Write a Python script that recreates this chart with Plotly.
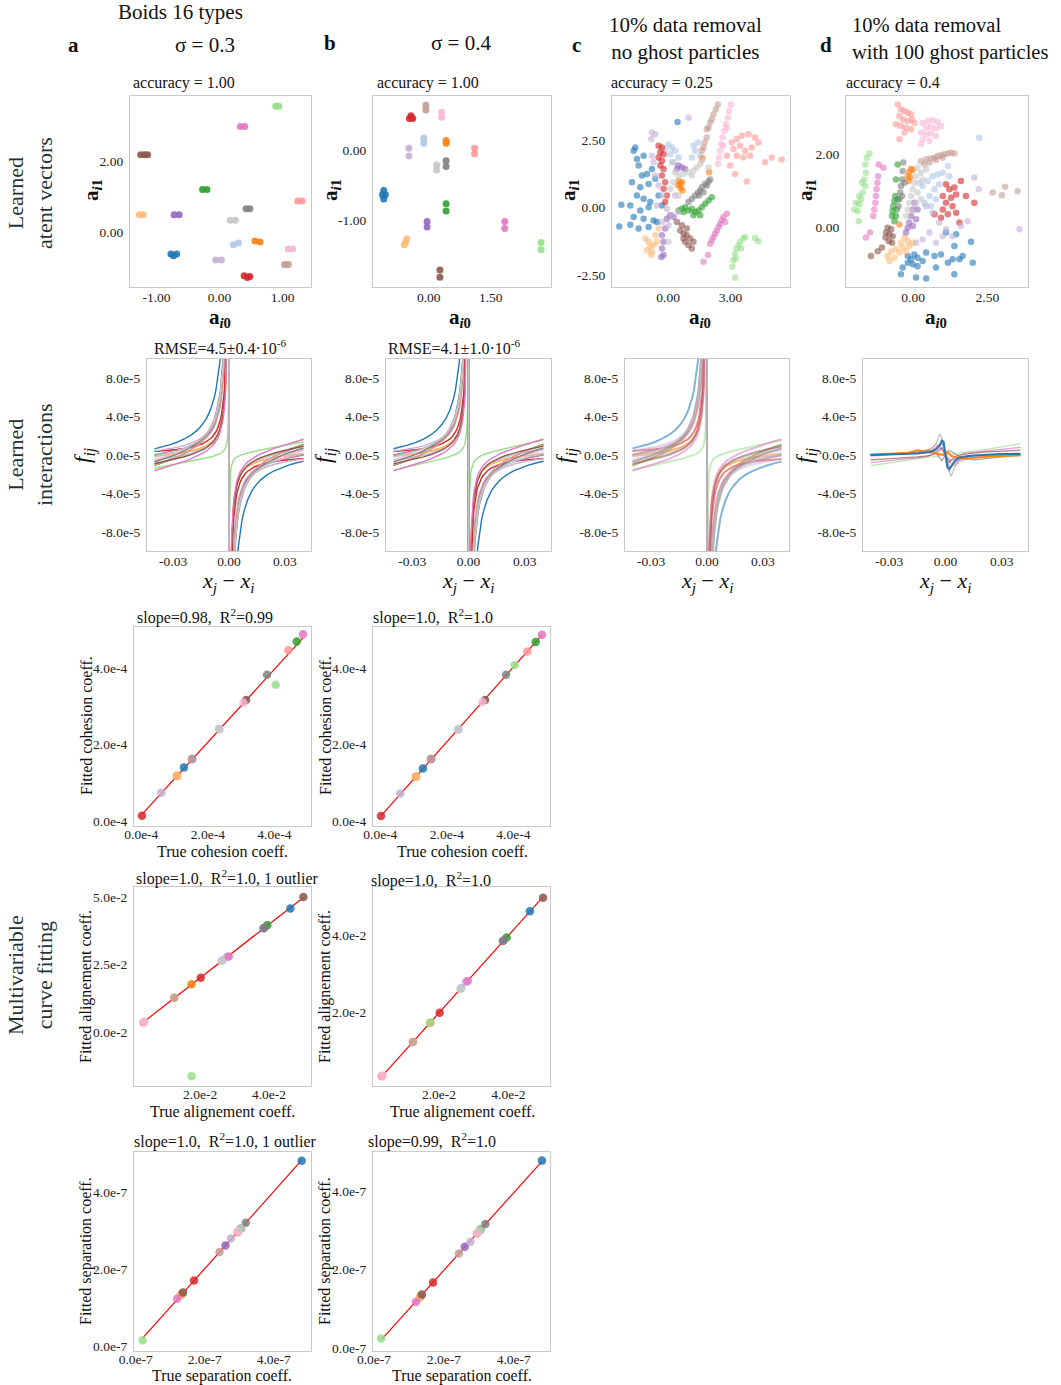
import numpy as np
import plotly.graph_objects as go

# the page body margin is removed by a post script, so the figure fills the window exactly
PAGE_OFF = 0
FW, FH = 1061, 1385
FONT = "Liberation Serif"

TYPES = ["blue", "lblue", "orange", "lorange", "green", "lgreen", "red", "lred",
         "purple", "lpurple", "brown", "lbrown", "pink", "lpink", "gray", "lgray"]
COLORS = dict(zip(TYPES, ["#1f77b4", "#aec7e8", "#ff7f0e", "#ffbb78", "#2ca02c", "#98df8a",
                          "#d62728", "#ff9896", "#9467bd", "#c5b0d5", "#8c564b", "#c49c94",
                          "#e377c2", "#f7b6d2", "#7f7f7f", "#c7c7c7"]))

# ---------------- coefficients per type (order = TYPES) ----------------
COH_TRUE = [1.28e-4, 2.35e-4, 1.07e-4, 1.08e-4, 4.67e-4, 4.04e-4, 0.02e-4, 4.42e-4,
            1.53e-4, 0.60e-4, 3.15e-4, 1.52e-4, 4.86e-4, 3.07e-4, 3.78e-4, 2.33e-4]
COH_FIT_A = [1.40e-4, 2.40e-4, 1.18e-4, 1.17e-4, 4.69e-4, 3.56e-4, 0.14e-4, 4.46e-4,
             1.62e-4, 0.74e-4, 3.16e-4, 1.62e-4, 4.88e-4, 3.09e-4, 3.82e-4, 2.41e-4]
COH_FIT_B = [1.37e-4, 2.39e-4, 1.16e-4, 1.15e-4, 4.68e-4, 4.08e-4, 0.13e-4, 4.43e-4,
             1.62e-4, 0.72e-4, 3.16e-4, 1.62e-4, 4.87e-4, 3.11e-4, 3.82e-4, 2.39e-4]

ALI_TRUE = [4.62e-2, 2.65e-2, 1.75e-2, 1.25e-2, 3.95e-2, 1.75e-2, 2.02e-2, 0.35e-2,
            3.86e-2, 2.78e-2, 5.00e-2, 1.25e-2, 2.83e-2, 0.38e-2, 3.84e-2, 2.62e-2]
ALI_FIT_A = [4.57e-2, 2.66e-2, 1.77e-2, 1.27e-2, 3.95e-2, -1.64e-2, 2.01e-2, 0.35e-2,
             3.85e-2, 2.78e-2, 5.00e-2, 1.27e-2, 2.80e-2, 0.38e-2, 3.84e-2, 2.63e-2]
ALI_FIT_B = [4.63e-2, 2.64e-2, 1.74e-2, 1.24e-2, 3.95e-2, 1.74e-2, 2.00e-2, 0.35e-2,
             3.87e-2, 2.80e-2, 4.98e-2, 1.24e-2, 2.82e-2, 0.37e-2, 3.86e-2, 2.62e-2]

SEP_TRUE = [4.81e-7, 1.36e-7, 1.32e-7, 1.30e-7, 3.05e-7, 0.20e-7, 1.69e-7, 2.95e-7,
            2.60e-7, 2.76e-7, 1.37e-7, 2.43e-7, 1.20e-7, 2.97e-7, 3.19e-7, 3.04e-7]
SEP_FIT_A = [4.81e-7, 1.37e-7, 1.34e-7, 1.32e-7, 3.05e-7, 0.15e-7, 1.70e-7, 2.95e-7,
             2.61e-7, 2.79e-7, 1.39e-7, 2.44e-7, 1.23e-7, 2.98e-7, 3.20e-7, 3.06e-7]
SEP_FIT_B = [4.78e-7, 1.34e-7, 1.30e-7, 1.28e-7, 3.02e-7, 0.24e-7, 1.67e-7, 2.92e-7,
             2.58e-7, 2.71e-7, 1.36e-7, 2.41e-7, 1.17e-7, 2.94e-7, 3.16e-7, 3.00e-7]

# ---------------- learned latent vectors ----------------
LAT_A = {
    "lgreen": ([0.89, 0.94], [3.58, 3.58]),
    "pink": ([0.33, 0.40], [3.00, 3.00]),
    "brown": ([-1.25, -1.19, -1.14], [2.20, 2.20, 2.20]),
    "green": ([-0.27, -0.20], [1.21, 1.21]),
    "lred": ([1.24, 1.31], [0.88, 0.88]),
    "gray": ([0.42, 0.48], [0.66, 0.66]),
    "lorange": ([-1.27, -1.21], [0.49, 0.49]),
    "purple": ([-0.72, -0.64], [0.49, 0.49]),
    "lgray": ([0.17, 0.25], [0.33, 0.33]),
    "lblue": ([0.22, 0.30], [-0.37, -0.32]),
    "orange": ([0.56, 0.64], [-0.26, -0.29]),
    "lpink": ([1.09, 1.16], [-0.49, -0.49]),
    "blue": ([-0.77, -0.68, -0.73], [-0.63, -0.63, -0.68]),
    "lpurple": ([-0.06, 0.03], [-0.80, -0.80]),
    "lbrown": ([1.03, 1.09], [-0.93, -0.93]),
    "red": ([0.39, 0.48, 0.44], [-1.25, -1.27, -1.30]),
}
LAT_B = {
    "lbrown": ([-0.07, -0.07], [0.57, 0.64]),
    "red": ([-0.47, -0.39, -0.43], [0.45, 0.45, 0.49]),
    "lpink": ([0.31, 0.31], [0.47, 0.54]),
    "lblue": ([-0.12, -0.12], [0.10, 0.17]),
    "orange": ([0.42, 0.42], [0.10, 0.14]),
    "lred": ([1.11, 1.11], [-0.05, 0.03]),
    "lpurple": ([-0.48, -0.48], [-0.08, 0.03]),
    "gray": ([0.42, 0.42], [-0.23, -0.15]),
    "lgray": ([0.19, 0.19], [-0.28, -0.21]),
    "blue": ([-1.12, -1.05, -1.09, -1.09], [-0.63, -0.63, -0.57, -0.69]),
    "green": ([0.42, 0.42], [-0.86, -0.76]),
    "purple": ([-0.04, -0.04], [-1.09, -1.01]),
    "pink": ([1.84, 1.84], [-1.11, -1.01]),
    "lorange": ([-0.59, -0.53, -0.56], [-1.34, -1.26, -1.30]),
    "brown": ([0.27, 0.27], [-1.80, -1.70]),
    "lgreen": ([2.72, 2.72], [-1.41, -1.31]),
}
LAT_C = {
    "blue": ([-1.58, -1.66, -1.50, -1.18, -1.42, -1.02, -1.26, -0.78, -1.74, -1.34, -0.94, -0.62, -1.50, -1.18,
              -0.86, -0.46, -2.25, -1.82, -1.34, -0.94, -0.30, -1.66, -1.18, -0.70, -2.35, -1.82, -1.42, -0.94, -0.54, 0.45],
             [2.22, 2.10, 1.79, 1.91, 1.55, 1.24, 1.18, 1.42, 0.93, 0.75, 0.87, 1.06, 0.44, 0.32,
              0.20, 0.44, 0.10, 0.07, -0.11, 0.01, 0.07, -0.35, -0.42, -0.48, -0.70, -0.64, -0.78, -0.72, -0.54, 3.16]),
    "lpurple": ([-0.78, -0.62, -0.81, -0.70, -0.62, -0.46, -0.30, -0.54, -0.06, 0.18, -0.30, 0.02, 0.50, 0.34, 0.98, -0.78],
                [2.77, 2.71, 2.53, 1.67, 1.18, 0.81, 0.44, 0.07, -0.05, -0.29, -0.54, -0.66, -0.17, 0.44, 3.32, 1.91]),
    "lblue": ([0.02, 0.18, 0.34, 0.10, 0.50, 0.26, 1.22, 1.30, 1.14, 1.43, 1.54, -0.14],
              [2.34, 2.22, 2.10, 1.97, 1.85, 1.67, 2.28, 2.10, 1.85, 2.40, 1.91, 2.16]),
    "red": ([-0.46, -0.30, -0.38, -0.22, -0.46, -0.30, -0.38, -0.22, -0.30, -0.14, -0.22, -0.06, -0.14],
            [2.28, 2.22, 2.04, 1.97, 1.85, 1.73, 1.55, 1.42, 1.18, 0.93, 0.69, 0.44, 0.20]),
    "purple": ([0.50, 0.66, 0.82, 0.42, 0.10, 0.26, -0.06, -0.30, -0.22, -0.30, -0.22, -0.33, -0.14],
               [1.55, 1.48, 1.42, 1.42, -0.29, -0.35, -0.42, -1.03, -1.27, -1.52, -1.76, -1.83, -0.78]),
    "lorange": ([-1.10, -0.94, -0.86, -1.02, -0.78, -0.70, -0.62, -0.46, -0.81, -0.54],
                [-1.15, -1.27, -1.46, -1.58, -1.64, -1.40, -1.03, -0.78, -1.76, -1.27]),
    "lgray": ([0.18, 0.34, 0.50, 0.74, 0.98, 1.22, 1.38, 1.54, 1.62, 1.14, 0.26, 0.10, 0.50, 0.02, 1.94],
              [1.67, 1.30, 1.18, 1.24, 1.30, 1.36, 1.48, 1.61, 1.73, 1.18, 0.93, 0.69, 0.44, -1.27, 1.48]),
    "orange": ([0.50, 0.58, 0.66, 0.47, 0.61, 0.69, 1.65, 1.97],
               [0.99, 0.87, 0.93, 0.81, 0.71, 0.63, 1.82, 1.30]),
    "gray": ([0.98, 1.14, 1.30, 1.43, 1.54, 1.62, 1.78, 1.94, 2.02, 1.49, 1.70, 1.86],
             [0.20, 0.32, 0.44, 0.54, 0.63, 0.75, 0.87, 0.96, 1.03, 0.44, 0.56, 0.81]),
    "green": ([0.50, 0.66, 0.82, 0.98, 1.14, 1.30, 1.46, 1.62, 1.78, 1.94, 2.10, 1.54, 1.22, 0.74],
              [-0.11, -0.05, 0.01, -0.11, -0.05, -0.17, -0.11, 0.01, 0.14, 0.26, 0.38, -0.29, -0.29, -0.17]),
    "brown": ([0.42, 0.66, 0.58, 0.74, 0.90, 1.06, 0.82, 0.98, 1.14, 0.90, 1.22, 0.74],
              [-0.54, -0.66, -0.85, -0.97, -1.03, -1.15, -1.27, -1.40, -1.52, -0.78, -1.27, -1.15]),
    "lbrown": ([2.39, 2.29, 2.18, 2.10, 2.02, 1.94, 1.86, 1.86, 1.75, 1.70, 1.62],
               [3.81, 3.63, 3.45, 3.26, 3.14, 2.96, 2.89, 2.59, 2.40, 2.22, 2.10]),
    "lpink": ([3.03, 2.93, 2.87, 2.77, 2.71, 2.61, 2.55, 2.50, 2.45, 2.39, 2.82, 2.66],
              [3.81, 3.57, 3.32, 3.08, 2.83, 2.59, 2.34, 2.10, 1.85, 1.61, 2.96, 2.28]),
    "lred": ([3.06, 3.30, 3.54, 3.86, 4.18, 3.14, 3.46, 3.70, 4.02, 4.34, 3.30, 3.62, 3.94, 2.98, 3.22, 3.78,
              4.66, 4.98, 5.46, 2.82],
             [2.40, 2.53, 2.65, 2.71, 2.59, 2.16, 2.28, 2.10, 2.22, 2.40, 1.91, 1.85, 1.91, 1.55, 1.24, 0.96,
              1.67, 1.85, 1.77, 1.91]),
    "pink": ([2.02, 2.10, 2.18, 2.26, 2.34, 2.42, 2.50, 2.58, 2.66, 2.82, 2.74, 1.70, 1.91],
             [-1.34, -1.21, -1.09, -0.97, -0.85, -0.72, -0.60, -0.48, -0.35, -0.23, -0.54, -2.01, -1.76]),
    "lgreen": ([3.09, 3.14, 3.22, 3.30, 3.38, 3.46, 3.62, 3.70, 3.25, 3.51, 3.22, 4.34, 4.18],
               [-2.19, -1.95, -1.70, -1.52, -1.40, -1.27, -1.15, -1.09, -1.89, -1.52, -2.60, -1.25, -1.13]),
}
LAT_D = {
    "lred": ([-0.52, -0.41, -0.29, -0.18, -0.07, -0.46, -0.33, -0.18, -0.04, -0.58, -0.41, -0.24, -0.07, -0.29, -0.46, 0.04],
             [3.37, 3.24, 3.19, 3.14, 3.10, 3.05, 2.96, 2.92, 2.96, 2.83, 2.78, 2.73, 2.69, 2.60, 2.42, 2.87]),
    "lpink": ([0.32, 0.49, 0.66, 0.83, 0.94, 0.44, 0.60, 0.77, 0.27, 0.44, 0.60, 0.77, 0.32, 0.55, 0.27],
              [2.87, 2.92, 2.94, 2.89, 2.78, 2.73, 2.76, 2.71, 2.60, 2.55, 2.58, 2.51, 2.42, 2.37, 2.28]),
    "lbrown": ([0.27, 0.44, 0.60, 0.72, 0.83, 0.94, 1.05, 1.17, 1.28, 1.39, 0.55, 0.77, 1.00, 0.38, 2.68, 2.99, 3.10, 3.52],
               [1.82, 1.87, 1.89, 1.91, 1.96, 1.98, 2.01, 2.03, 2.05, 2.03, 1.78, 1.85, 1.91, 1.73, 0.96, 0.89, 1.12, 1.00]),
    "lgreen": ([-1.47, -1.56, -1.61, -1.59, -1.64, -1.61, -1.70, -1.75, -1.81, -1.87, -1.92, -1.98, -1.83, -1.72, -1.81],
               [2.03, 1.91, 1.73, 1.50, 1.32, 1.14, 0.96, 0.78, 0.64, 0.46, 0.68, 0.50, 0.18, 1.23, 0.87]),
    "pink": ([-1.16, -1.18, -1.20, -1.23, -1.25, -1.27, -1.31, -1.34, -1.00, -1.45, -1.59],
             [1.73, 1.41, 1.23, 1.05, 0.87, 0.68, 0.50, 0.32, 1.64, -0.13, -0.27]),
    "lgray": ([0.15, 0.10, 0.04, -0.01, -0.07, -0.13, -0.18, -0.24, 0.27, 0.21, 0.15, 0.10, 0.32, -0.01, 0.44, 0.27],
              [1.64, 1.41, 1.23, 1.05, 0.87, 0.68, 0.50, 0.32, 1.50, 1.23, 0.96, 0.68, 1.32, 0.46, 1.60, 0.78]),
    "green": ([-0.60, -0.63, -0.67, -0.69, -0.71, -0.63, -0.52, -0.55, -0.58, -0.52, -0.58],
              [0.87, 0.73, 0.59, 0.46, 0.32, 0.18, 0.78, 0.50, 0.32, 1.73, 1.32]),
    "gray": ([-0.33, -0.35, -0.37, -0.41, -0.44, -0.46, -0.49, -0.29, -0.37],
             [1.78, 1.55, 1.32, 1.14, 0.96, 0.78, 0.59, 1.23, 0.87]),
    "orange": ([-0.07, -0.13, -0.01, -0.18, -0.10, -0.15, -0.46],
               [1.61, 1.52, 1.58, 1.41, 1.37, 1.28, 0.09]),
    "lblue": ([0.32, 0.49, 0.66, 0.83, 1.00, 1.17, 0.55, 0.72, 0.88, 0.38, 0.60, 2.23, 1.22, 0.77],
              [1.14, 1.28, 1.41, 1.46, 1.50, 1.69, 0.87, 1.05, 1.19, 0.68, 0.59, 2.46, 1.41, 0.78]),
    "lpurple": ([0.44, 0.66, 0.88, 1.11, 1.33, 0.55, 0.32, 0.77, 1.61, 1.84, 2.06, 2.21, 3.58, 0.10, 1.00],
                [0.59, 0.41, 0.14, -0.04, -0.23, -0.13, -0.32, -0.41, 0.05, 0.18, 1.37, 1.05, -0.04, -0.41, -0.23]),
    "red": ([1.11, 1.22, 1.39, 1.45, 1.28, 1.11, 1.33, 1.00, 1.17, 0.94, 1.45, 1.61, 1.78, 2.06, 0.72, 1.56, 1.00],
            [1.19, 1.05, 1.10, 0.91, 0.82, 0.68, 0.59, 0.50, 0.37, 0.27, 0.41, 1.28, 0.87, 0.68, 0.37, 0.14, 0.87]),
    "purple": ([0.04, -0.01, -0.07, -0.13, -0.18, -0.01, 0.10, -0.24, 0.15],
               [0.68, 0.50, 0.32, 0.14, 0.00, 0.05, 0.23, -0.13, 0.50]),
    "brown": ([-0.86, -0.74, -0.91, -0.80, -0.69, -0.93, -0.82, -0.71, -1.19, -1.42, -1.05],
              [0.00, -0.04, -0.13, -0.18, -0.23, -0.27, -0.36, -0.41, -0.64, -0.77, -0.54]),
    "lorange": ([-0.29, -0.18, -0.41, -0.13, -0.35, -0.58, -0.74, -0.46, -0.86, -0.63, -0.80, -0.24, -0.01],
                [-0.27, -0.36, -0.41, -0.50, -0.54, -0.59, -0.64, -0.68, -0.77, -0.82, -0.91, -0.64, -0.41]),
    "blue": ([-0.18, -0.07, 0.04, 0.15, -0.01, -0.18, 0.15, 0.32, 0.44, -0.35, 0.10, 0.44, 0.77, 0.94, 1.17, 1.39,
              1.33, 1.56, 1.67, 1.95, 2.01, 1.39, 0.72, -0.41, 1.11, 1.45],
             [-0.77, -0.86, -0.73, -0.82, -1.00, -0.96, -1.05, -0.91, -0.68, -1.09, -1.36, -1.39, -1.09, -0.73, -0.96, -0.50,
              -0.86, -0.86, -0.77, -0.38, -0.96, -1.27, -0.77, -1.27, -0.13, -0.18]),
}

# ---------------- interaction curves ----------------
X_NEG = [-0.04, -0.036, -0.032, -0.028, -0.024, -0.02, -0.017, -0.014, -0.012, -0.01, -0.009,
         -0.008, -0.007, -0.006, -0.005, -0.0045, -0.004, -0.0035, -0.003, -0.0027, -0.0024,
         -0.0021, -0.0018, -0.0015, -0.0012, -0.001, -0.0008, -0.0006, -0.0004, -0.0002]
X_GRID = X_NEG + [-v for v in reversed(X_NEG)]

# panel d: learned functions with ghost particles (values in units of 1e-5)
D_UNIT = 1e-5
X_D = [-0.04, -0.03, -0.02, -0.015, -0.01, -0.007, -0.005, -0.003, -0.002, -0.001, 0.0,
       0.001, 0.002, 0.003, 0.005, 0.007, 0.01, 0.015, 0.02, 0.03, 0.04]
D_CURVES = {
    "lgreen": [-1.1, -0.8, -0.5, -0.4, -0.25, -0.2, -0.15, -0.1, -0.05, 0, 0, 0, 0.05, 0.1, 0.15, 0.2, 0.3, 0.4, 0.55, 0.85, 1.2],
    "pink": [-0.8, -0.6, -0.4, -0.3, -0.2, 0.1, 0.4, 0.7, 0.6, 0.2, 0, -0.2, -0.5, -0.6, -0.4, -0.2, 0.2, 0.3, 0.4, 0.6, 0.8],
    "lred": [0, 0.05, 0.15, 0.25, 0.5, 0.8, 1.1, 0.9, 0.6, 0.3, 0, -0.3, -0.6, -0.9, -1.1, -0.8, -0.5, -0.25, -0.1, 0, 0.05],
    "lbrown": [0, 0.05, 0.1, 0.2, 0.4, 0.7, 1.2, 2.2, 1.8, 0.8, 0, -0.8, -1.8, -2.2, -1.2, -0.6, -0.3, -0.1, 0, 0.05, 0.1],
    "gray": [0, 0.1, 0.2, 0.3, 0.5, 0.4, 0.2, -0.4, -0.6, -0.3, 0, 0.3, 0.5, 0.4, 0.1, -0.1, -0.3, -0.5, -0.4, -0.2, 0],
    "brown": [-0.5, -0.4, -0.3, -0.2, -0.1, 0, 0.2, 0.5, 0.8, 0.4, 0, -0.4, -0.8, -0.5, -0.2, 0, 0.1, 0.2, 0.3, 0.4, 0.5],
    "purple": [-0.1, 0, 0.1, 0.2, 0.3, 0.5, 0.8, 1.2, 1.3, 0.8, 0, -0.8, -1.3, -1.2, -0.8, -0.5, -0.3, -0.1, 0, 0.1, 0.2],
    "orange": [0.05, 0.1, 0.2, 0.5, 0.35, 0.2, 0.15, 0.1, 0.05, 0, 0.2, 0.35, 0.1, -0.1, -0.2, -0.3, -0.4, -0.3, -0.2, -0.1, -0.05],
    "blue": [0, 0.05, 0.1, 0.15, 0.25, 0.4, 0.6, 1.0, 1.5, 1.4, 0, -1.3, -1.5, -1.2, -0.6, -0.3, -0.15, -0.05, 0, 0.1, 0.1],
}

# ---------------- tick values ----------------
TICKS_LAT = {"a": ([-1, 0, 1], [0, 2]), "b": ([0, 1.5], [-1, 0]),
             "c": ([0, 3], [-2.5, 0, 2.5]), "d": ([0, 2.5], [0, 2])}
TICKS_INT_X = [-0.03, 0.0, 0.03]
TICKS_INT_Y = [-8e-5, -4e-5, 0.0, 4e-5, 8e-5]
TICKS_COH = [0.0, 2e-4, 4e-4]
TICKS_ALI_A_X, TICKS_ALI_A_Y = [2e-2, 4e-2], [0.0, 2.5e-2, 5e-2]
TICKS_ALI_B = [2e-2, 4e-2]
TICKS_SEP = [0.0, 2e-7, 4e-7]

# ======================================================================
def PX(x):
    return (x - PAGE_OFF) / FW


def PY(y):
    return 1 - (y - PAGE_OFF) / FH


TICKFONT = dict(family=FONT, size=13.5, color="#222222")
AXBASE = dict(showline=True, mirror=True, linecolor="#c9c9c9", linewidth=1.2, showgrid=False,
              zeroline=False, ticks="", tickfont=TICKFONT, automargin=False)

layout = dict(template="none", width=FW, height=FH, margin=dict(l=0, r=0, t=0, b=0, pad=0, autoexpand=False),
              autosize=False, paper_bgcolor="white", plot_bgcolor="white", showlegend=False,
              font=dict(family=FONT, color="#111111"))
traces = []
counter = [0]


def fmt2(v):
    return f"{v:.2f}"


def fmte(v, e):
    return f"{v / 10 ** e:.1f}e{e}"


def new_axes(box, xr, yr, xt, xtt, yt, ytt, xstand=-2):
    counter[0] += 1
    n = counter[0]
    s = "" if n == 1 else str(n)
    x0, x1, y0, y1 = box
    layout["xaxis" + s] = dict(domain=[PX(x0), PX(x1)], range=xr, anchor="y" + s,
                               tickvals=xt, ticktext=xtt, ticklabelstandoff=xstand, **AXBASE)
    layout["yaxis" + s] = dict(domain=[PY(y1), PY(y0)], range=yr, anchor="x" + s,
                               tickvals=yt, ticktext=ytt, ticklabelstandoff=3, **AXBASE)
    return "x" + s, "y" + s


# ---- Row 1: latent vectors ----
row1 = [("a", (130, 311, 96, 287), [-1.42, 1.45], [-1.57, 3.87], LAT_A, 7, 0.9),
        ("b", (373, 551, 96, 287), [-1.35, 2.96], [-1.94, 0.77], LAT_B, 7, 0.9),
        ("c", (612, 790, 96, 287), [-2.70, 5.86], [-2.94, 4.12], LAT_C, 6.5, 0.6),
        ("d", (846, 1028, 96, 287), [-2.26, 3.87], [-1.62, 3.60], LAT_D, 6.5, 0.6)]
for key, box, xr, yr, data, msize, mop in row1:
    xt, yt = TICKS_LAT[key]
    xa, ya = new_axes(box, xr, yr, xt, [fmt2(v) for v in xt], yt, [fmt2(v) for v in yt])
    for t in TYPES:
        if t not in data:
            continue
        xs, ys = data[t]
        traces.append(go.Scatter(x=xs, y=ys, xaxis=xa, yaxis=ya, mode="markers",
                                 marker=dict(color=COLORS[t], size=msize, opacity=mop, line=dict(width=0)),
                                 hoverinfo="skip"))

# ---- Row 2: learned interactions ----
xg = np.array(X_GRID)
row2 = [((147, 311, 359, 551), COH_FIT_A, SEP_FIT_A, 1.4, 1.0),
        ((386, 551, 359, 551), COH_FIT_B, SEP_FIT_B, 1.4, 1.0),
        ((625, 789, 359, 551), COH_TRUE, SEP_TRUE, 2.0, 0.55)]
for box, coh, sep, lw, op in row2:
    xa, ya = new_axes(box, [-0.044, 0.044], [-1e-4, 1e-4], TICKS_INT_X, [fmt2(v) for v in TICKS_INT_X],
                      TICKS_INT_Y, [fmte(v, -5) for v in TICKS_INT_Y])
    for i, t in enumerate(TYPES):
        f = coh[i] * xg - sep[i] / xg
        traces.append(go.Scatter(x=X_GRID, y=f, xaxis=xa, yaxis=ya, mode="lines",
                                 line=dict(color=COLORS[t], width=lw), opacity=op, hoverinfo="skip"))
xa, ya = new_axes((863, 1028, 359, 551), [-0.044, 0.044], [-1e-4, 1e-4], TICKS_INT_X,
                  [fmt2(v) for v in TICKS_INT_X], TICKS_INT_Y, [fmte(v, -5) for v in TICKS_INT_Y])
for t, vals in D_CURVES.items():
    traces.append(go.Scatter(x=X_D, y=[v * D_UNIT for v in vals], xaxis=xa, yaxis=ya, mode="lines",
                             line=dict(color=COLORS[t], width=2.0 if t in ("blue", "orange") else 1.2),
                             opacity=0.95 if t in ("blue", "orange") else 0.7, hoverinfo="skip"))


# ---- Rows 3-5: curve fitting ----
def fit_panel(box, xr, yr, xt, xtt, yt, ytt, true, fit, outlier=None):
    xa, ya = new_axes(box, xr, yr, xt, xtt, yt, ytt, xstand=-4)
    idx = [i for i in range(len(true)) if i != outlier]
    tx = np.array([true[i] for i in idx])
    fy = np.array([fit[i] for i in idx])
    slope, icpt = np.polyfit(tx, fy, 1)
    lx = np.array([tx.min(), tx.max()])
    traces.append(go.Scatter(x=lx, y=slope * lx + icpt, xaxis=xa, yaxis=ya, mode="lines",
                             line=dict(color="#ff0000", width=1.2), hoverinfo="skip"))
    traces.append(go.Scatter(x=true, y=fit, xaxis=xa, yaxis=ya, mode="markers",
                             marker=dict(color=[COLORS[t] for t in TYPES], size=8.5, opacity=0.85,
                                         line=dict(width=0)), hoverinfo="skip"))


LG = TYPES.index("lgreen")
fit_panel((134, 311, 627, 826), [-0.22e-4, 5.10e-4], [-0.13e-4, 5.07e-4], TICKS_COH,
          [fmte(v, -4) for v in TICKS_COH], TICKS_COH, [fmte(v, -4) for v in TICKS_COH], COH_TRUE, COH_FIT_A)
fit_panel((373, 550, 627, 826), [-0.22e-4, 5.10e-4], [-0.13e-4, 5.07e-4], TICKS_COH,
          [fmte(v, -4) for v in TICKS_COH], TICKS_COH, [fmte(v, -4) for v in TICKS_COH], COH_TRUE, COH_FIT_B)
fit_panel((134, 311, 887, 1086), [0.08e-2, 5.22e-2], [-2.0e-2, 5.37e-2], TICKS_ALI_A_X,
          [fmte(v, -2) for v in TICKS_ALI_A_X], TICKS_ALI_A_Y, [fmte(v, -2) for v in TICKS_ALI_A_Y],
          ALI_TRUE, ALI_FIT_A, outlier=LG)
fit_panel((373, 550, 887, 1086), [0.1e-2, 5.2e-2], [0.1e-2, 5.26e-2], TICKS_ALI_B,
          [fmte(v, -2) for v in TICKS_ALI_B], TICKS_ALI_B, [fmte(v, -2) for v in TICKS_ALI_B],
          ALI_TRUE, ALI_FIT_B)
fit_panel((134, 311, 1152, 1351), [-0.05e-7, 5.08e-7], [-0.13e-7, 5.04e-7], TICKS_SEP,
          [fmte(v, -7) for v in TICKS_SEP], TICKS_SEP, [fmte(v, -7) for v in TICKS_SEP], SEP_TRUE, SEP_FIT_A)
fit_panel((373, 550, 1152, 1351), [-0.03e-7, 5.04e-7], [-0.08e-7, 5.0e-7], TICKS_SEP,
          [fmte(v, -7) for v in TICKS_SEP], TICKS_SEP, [fmte(v, -7) for v in TICKS_SEP], SEP_TRUE, SEP_FIT_B)

# ---------------- annotations ----------------
ann = []


def note(text, x, y, size, xanchor="center", angle=0, color="#111111", align="center"):
    ann.append(dict(text=text, x=PX(x), y=PY(y), xref="paper", yref="paper", xanchor=xanchor,
                    yanchor="middle", showarrow=False, textangle=angle, align=align,
                    font=dict(family=FONT, size=size, color=color)))


HS = 21
note("Boids 16 types", 180, 12, HS)
note("<b>a</b>", 73, 45, HS)
note("σ = 0.3", 205, 45, HS)
note("<b>b</b>", 330, 43, HS)
note("σ = 0.4", 461, 43, HS)
note("<b>c</b>", 576, 45, HS)
note("10% data removal<br>no ghost particles", 685, 39, HS)
note("<b>d</b>", 826, 45, HS)
note("10% data removal<br>with 100 ghost particles", 850, 39, 20.5, xanchor="left", align="left")

ROWC = "#1f3336"
note("Learned<br>atent vectors", 30, 193, 22, angle=-90, color=ROWC)
note("Learned<br>interactions", 30, 455, 22, angle=-90, color=ROWC)
note("Multivariable<br>curve fitting", 30, 975, 22, angle=-90, color=ROWC)

SS = 16
for x, txt in [(131, "accuracy = 1.00"), (375, "accuracy = 1.00"), (609, "accuracy = 0.25"), (844, "accuracy = 0.4")]:
    note(txt, x, 83, SS, xanchor="left")
note("RMSE=4.5±0.4·10<sup>-6</sup>", 152, 347, SS, xanchor="left")
note("RMSE=4.1±1.0·10<sup>-6</sup>", 386, 347, SS, xanchor="left")
SP = "\u00a0"
note(f"slope=0.98,{SP} R<sup>2</sup>=0.99", 135, 616, SS, xanchor="left")
note(f"slope=1.0,{SP} R<sup>2</sup>=1.0", 371, 616, SS, xanchor="left")
note(f"slope=1.0,{SP} R<sup>2</sup>=1.0, 1 outlier", 134, 877, SS, xanchor="left")
note(f"slope=1.0,{SP} R<sup>2</sup>=1.0", 369, 879, SS, xanchor="left")
note(f"slope=1.0,{SP} R<sup>2</sup>=1.0, 1 outlier", 132, 1140, SS, xanchor="left")
note(f"slope=0.99,{SP} R<sup>2</sup>=1.0", 366, 1140, SS, xanchor="left")

AI1 = "<b>a<sub><i>i</i>1</sub></b>"
AI0 = "<b>a<sub><i>i</i>0</sub></b>"
for x in (92, 331, 569, 806):
    note(AI1, x, 190, 21, angle=-90)
for x in (220, 460, 700, 936):
    note(AI0, x, 318, 21)
FIJ = "<i>f<sub>ij</sub></i>"
XJI = "<i>x<sub>j</sub></i> − <i>x<sub>i</sub></i>"
for x in (84, 325, 566, 806):
    note(FIJ, x, 455, 23, angle=-90)
for x in (228, 468, 707, 945):
    note(XJI, x, 582, 22)

AS = 16
for xl, xb in ((86, 222), (325, 462)):
    note("Fitted cohesion coeff.", xl, 726, AS, angle=-90)
    note("True cohesion coeff.", xb, 851, AS)
    note("Fitted alignement coeff.", xl, 987, AS, angle=-90)
    note("True alignement coeff.", xb, 1112, AS)
    note("Fitted separation coeff.", xl, 1251, AS, angle=-90)
    note("True separation coeff.", xb, 1376, AS)

layout["annotations"] = ann
fig = go.Figure(data=traces, layout=layout)
fig.write_html("out.html", config={"displayModeBar": False},
               post_script="document.body.style.margin='0';document.body.style.overflow='hidden';")
